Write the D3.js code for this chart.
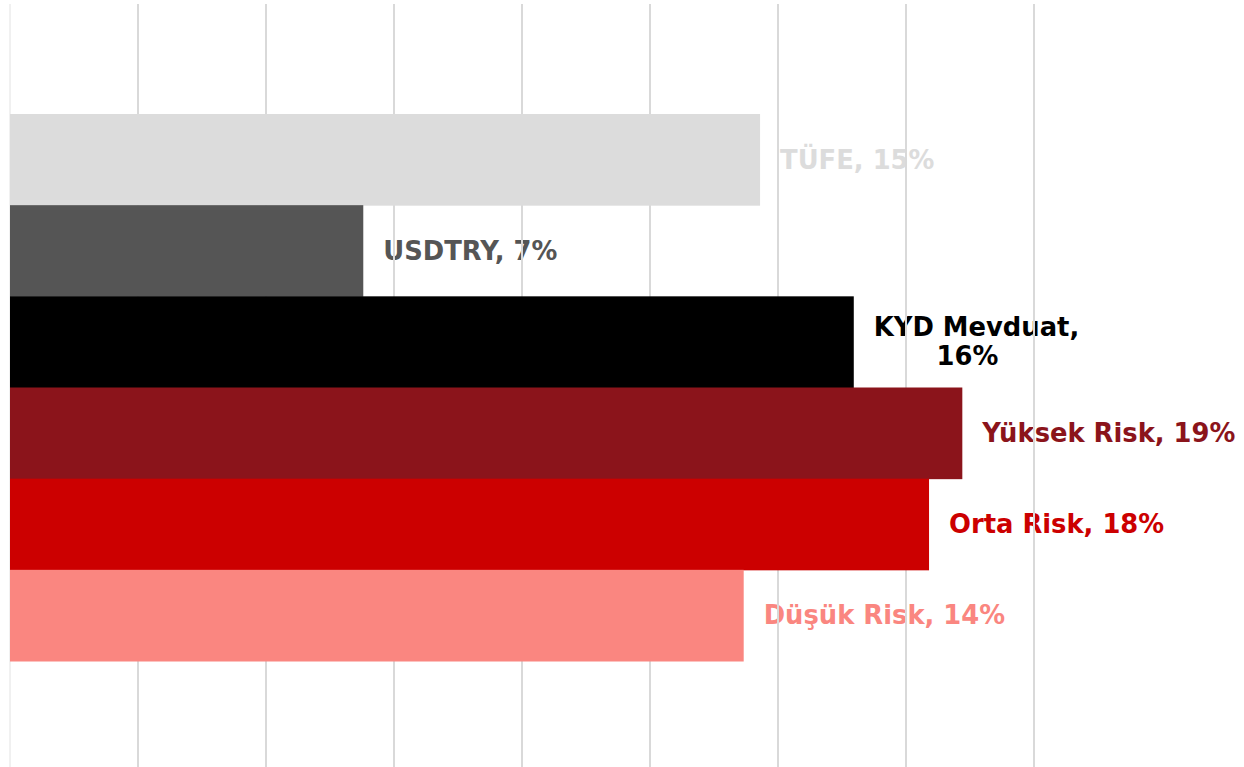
<!DOCTYPE html>
<html>
<head>
<meta charset="utf-8">
<script src="https://cdn.jsdelivr.net/npm/d3@7"></script>
<style>
  html, body { margin: 0; padding: 0; background: #fff; }
  svg { display: block; }
  .label { font-family: "DejaVu Sans", sans-serif; font-weight: bold; font-size: 25.8px; }
</style>
</head>
<body>
<svg id="chart" width="1244" height="767"></svg>
<script>
// chart data
const names = ["TÜFE", "USDTRY", "KYD Mevduat", "Yüksek Risk", "Orta Risk", "Düşük Risk"];
const values = [14.65, 6.9, 16.48, 18.6, 17.95, 14.33];
const labels = ["TÜFE, 15%", "USDTRY, 7%", "KYD Mevduat,|16%", "Yüksek Risk, 19%", "Orta Risk, 18%", "Düşük Risk, 14%"];
const colors = ["#dcdcdc", "#555555", "#000000", "#8b141b", "#cc0000", "#fa8680"];
const gridTicks = [0, 2.5, 5, 7.5, 10, 12.5, 15, 17.5, 20];

var svg = d3.select("#chart");
var W = 1244, H = 767;
var margin = {top: 114, left: 10, bottom: 106};

var x = d3.scaleLinear().domain([0, 24]).range([margin.left, margin.left + 24 * 51.2]);
var y = d3.scaleBand().domain(names).range([margin.top, H - margin.bottom]).padding(0);

var data = names.map((n, i) => ({name: n, value: values[i], label: labels[i], color: colors[i]}));

// labels go under the gridlines
var lab = svg.append("g").selectAll("text")
    .data(data)
  .enter().append("text")
    .attr("class", "label")
    .attr("fill", d => d.color);

lab.each(function(d) {
  var t = d3.select(this);
  var lines = d.label.split("|");
  var x0 = x(d.value) + 20;
  var cy = y(d.name) + y.bandwidth() / 2;
  var lh = 29;
  if (lines.length == 1) {
    t.attr("x", x0).attr("y", cy).attr("dy", "0.35em").text(lines[0]);
  } else {
    // first line starts at x0, following lines centred (a bit left) under it
    t.append("tspan").text(lines[0]);
    var w = this.getComputedTextLength();
    t.text(null);
    lines.forEach((s, k) => {
      t.append("tspan")
        .attr("x", k == 0 ? x0 : x0 + w / 2 - 9)
        .attr("y", cy + (k - (lines.length - 1) / 2) * lh)
        .attr("dy", "0.35em")
        .attr("text-anchor", k == 0 ? "start" : "middle")
        .text(s);
    });
  }
});

svg.append("g").selectAll("line")
    .data(gridTicks)
  .enter().append("line")
    .attr("x1", d => x(d)).attr("x2", d => x(d))
    .attr("y1", 4).attr("y2", H)
    .attr("stroke", d => d == 0 ? "#e2e2e2" : "#d9d9d9")
    .attr("stroke-width", d => d == 0 ? 1 : 2);

svg.append("g").selectAll("rect")
    .data(data)
  .enter().append("rect")
    .attr("x", x(0))
    .attr("y", d => y(d.name))
    .attr("width", d => x(d.value) - x(0))
    .attr("height", y.bandwidth() + 0.5)
    .attr("fill", d => d.color);
</script>
</body>
</html>
